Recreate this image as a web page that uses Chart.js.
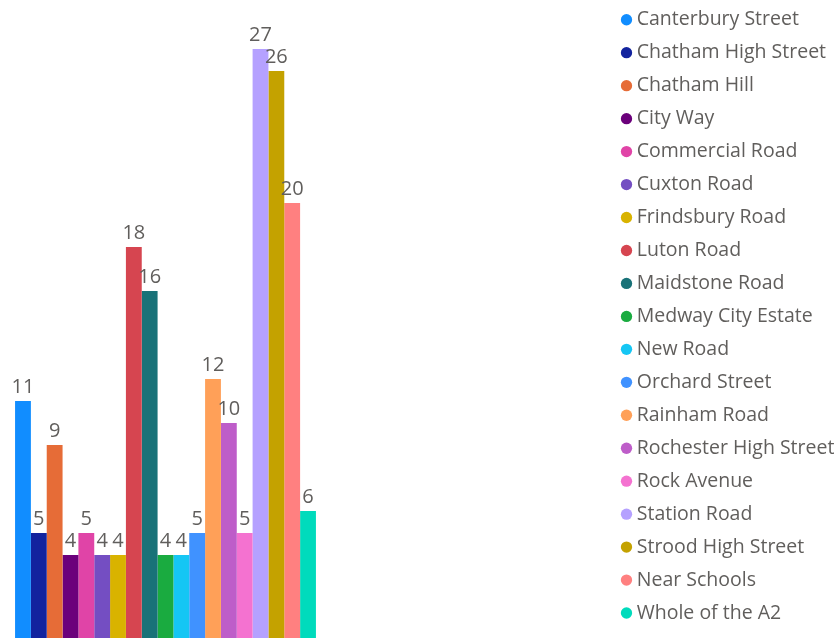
<!DOCTYPE html>
<html>
<head>
<meta charset="utf-8">
<script src="https://cdn.jsdelivr.net/npm/chart.js@4"></script>
<style>
  html, body { margin: 0; padding: 0; background: #fff; }
  #wrap { width: 834px; height: 638px; position: relative; }
</style>
</head>
<body>
<div id="wrap"><canvas id="chart"></canvas></div>
<script>
const roads = [
  "Canterbury Street", "Chatham High Street", "Chatham Hill", "City Way",
  "Commercial Road", "Cuxton Road", "Frindsbury Road", "Luton Road",
  "Maidstone Road", "Medway City Estate", "New Road", "Orchard Street",
  "Rainham Road", "Rochester High Street", "Rock Avenue", "Station Road",
  "Strood High Street", "Near Schools", "Whole of the A2"
];
const counts = [11, 5, 9, 4, 5, 4, 4, 18, 16, 4, 4, 5, 12, 10, 5, 27, 26, 20, 6];
const colours = [
  "#118DFF", "#12239E", "#E66C37", "#6B007B", "#E044A7", "#744EC2",
  "#D9B300", "#D64550", "#197278", "#1AAB40", "#15C6F4", "#4092FF",
  "#FFA058", "#BE5DC9", "#F472D0", "#B5A1FF", "#C4A200", "#FF8080", "#00DBBC"
];

const textColour = "#605E5C";
const fontFamily = "'Open Sans', 'Noto Sans', sans-serif";

// draws the value above each bar
const valueLabels = {
  id: "valueLabels",
  afterDatasetsDraw(chart) {
    const ctx = chart.ctx;
    ctx.save();
    ctx.font = `20px ${fontFamily}`;
    ctx.fillStyle = textColour;
    ctx.textAlign = "center";
    ctx.textBaseline = "alphabetic";
    chart.data.datasets.forEach((ds, i) => {
      const meta = chart.getDatasetMeta(i);
      meta.data.forEach((bar, j) => {
        ctx.fillText(String(ds.data[j]), bar.x, bar.y - 8);
      });
    });
    ctx.restore();
  }
};

const datasets = roads.map((road, i) => ({
  label: road,
  data: [counts[i]],
  backgroundColor: colours[i],
  borderWidth: 0
}));

new Chart(document.getElementById("chart"), {
  type: "bar",
  data: { labels: [""], datasets },
  options: {
    responsive: true,
    maintainAspectRatio: false,
    animation: false,
    layout: { padding: 0 },
    datasets: {
      bar: { categoryPercentage: 0.909, barPercentage: 1 }
    },
    scales: {
      x: { display: false },
      y: {
        position: "right",
        min: 0.23,
        max: 29.23,
        grid: { display: false },
        border: { display: false },
        ticks: { display: false },
        // empty gap between the bars and the legend
        afterFit: scale => { scale.width = 287; }
      }
    },
    plugins: {
      tooltip: { enabled: false },
      legend: {
        position: "right",
        align: "start",
        maxWidth: 216,
        title: {
          display: true,
          text: "",
          font: { size: 1, lineHeight: 1 },
          padding: { top: 1, bottom: 0 }
        },
        labels: {
          usePointStyle: true,
          pointStyle: "circle",
          boxWidth: 1,
          boxHeight: 8,
          padding: 8,
          color: textColour,
          font: { family: fontFamily, size: 19.5, lineHeight: 1.28 },
          // text as a one-line array so the row height follows lineHeight
          generateLabels: chart => {
            const items = Chart.defaults.plugins.legend.labels.generateLabels(chart);
            items.forEach(item => { item.text = [item.text]; });
            return items;
          }
        }
      }
    }
  },
  plugins: [valueLabels]
});
</script>
</body>
</html>
